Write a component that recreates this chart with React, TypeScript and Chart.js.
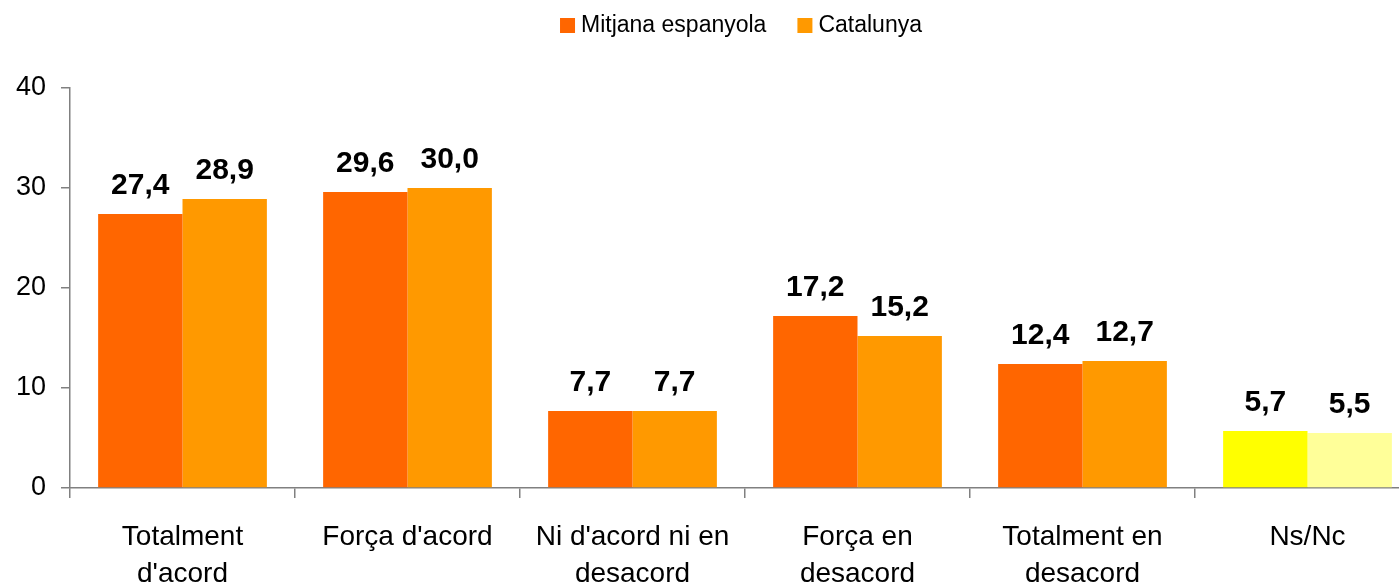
import React, { useEffect, useRef } from "react";
import { Chart, registerables } from "chart.js";

Chart.register(...registerables);

const categories: (string | string[])[] = [
  ["Totalment", "d'acord"],
  "Força d'acord",
  ["Ni d'acord ni en", "desacord"],
  ["Força en", "desacord"],
  ["Totalment en", "desacord"],
  "Ns/Nc",
];
const seriesNames = ["Mitjana espanyola", "Catalunya"];
const mitjanaValues = [27.4, 29.6, 7.7, 17.2, 12.4, 5.7];
const catalunyaValues = [28.9, 30.0, 7.7, 15.2, 12.7, 5.5];
const yTicks = [0, 10, 20, 30, 40];

const mainColors = ["#FF6600", "#FF9900"];
const nsncColors = ["#FFFF00", "#FFFF99"];

const FONT = "'Liberation Sans', Arial, Helvetica, sans-serif";

const labelPlugin = {
  id: "barLabels",
  afterDatasetsDraw(chart: any) {
    const ctx = chart.ctx;
    ctx.save();
    ctx.font = `bold 30px ${FONT}`;
    ctx.fillStyle = "#000";
    ctx.textAlign = "center";
    ctx.textBaseline = "alphabetic";
    chart.data.datasets.forEach((ds: any, i: number) => {
      const meta = chart.getDatasetMeta(i);
      meta.data.forEach((el: any, j: number) => {
        const v = ds.data[j] as number;
        ctx.fillText(v.toFixed(1).replace(".", ","), el.x, el.y - 20);
      });
    });
    ctx.restore();
  },
};

const legendPlugin = {
  id: "customLegend",
  afterDraw(chart: any) {
    const ctx = chart.ctx;
    ctx.save();
    ctx.font = `23px ${FONT}`;
    const box = 15;
    const gap = 6;
    const itemGap = 31;
    const widths = seriesNames.map((n) => ctx.measureText(n).width);
    const total = widths.reduce((a, w) => a + box + gap + w, 0) + itemGap * (seriesNames.length - 1);
    let x = 741 - total / 2;
    seriesNames.forEach((n, i) => {
      ctx.fillStyle = mainColors[i];
      ctx.fillRect(x, 18, box, box);
      ctx.fillStyle = "#000";
      ctx.textAlign = "left";
      ctx.textBaseline = "alphabetic";
      ctx.fillText(n, x + box + gap, 32);
      x += box + gap + widths[i] + itemGap;
    });
    ctx.restore();
  },
};

export default function App() {
  const ref = useRef<HTMLCanvasElement>(null);
  useEffect(() => {
    if (!ref.current) return;
    const chart = new Chart(ref.current, {
      type: "bar",
      data: {
        labels: categories,
        datasets: [
          {
            label: seriesNames[0],
            data: mitjanaValues,
            backgroundColor: (c: any) => (c.dataIndex === 5 ? nsncColors[0] : mainColors[0]),
            categoryPercentage: 0.75,
            barPercentage: 1,
          },
          {
            label: seriesNames[1],
            data: catalunyaValues,
            backgroundColor: (c: any) => (c.dataIndex === 5 ? nsncColors[1] : mainColors[1]),
            categoryPercentage: 0.75,
            barPercentage: 1,
          },
        ],
      },
      options: {
        animation: false,
        responsive: true,
        maintainAspectRatio: false,
        layout: { padding: { top: 88, right: 1, left: 0, bottom: 0 } },
        plugins: {
          tooltip: { enabled: false },
          legend: { display: false },
        },
        scales: {
          x: {
            grid: {
              drawOnChartArea: false,
              drawTicks: true,
              tickLength: 10,
              color: "#808080",
              lineWidth: 1.5,
            },
            border: { color: "#808080", width: 1.5 },
            ticks: {
              color: "#000",
              font: { family: FONT, size: 28, lineHeight: 1.32 },
              maxRotation: 0,
              autoSkip: false,
              padding: 21,
            },
            afterFit: (s: any) => {
              s.height = 98;
            },
          },
          y: {
            min: 0,
            max: 40,
            afterBuildTicks: (s: any) => {
              s.ticks = yTicks.map((v) => ({ value: v }));
            },
            grid: {
              drawOnChartArea: false,
              drawTicks: true,
              tickLength: 9,
              color: "#808080",
              lineWidth: 1.5,
            },
            border: { color: "#808080", width: 1.5 },
            ticks: {
              color: "#000",
              font: { family: FONT, size: 27 },
              padding: 15,
            },
            afterFit: (s: any) => {
              s.width = 70;
            },
          },
        },
      },
      plugins: [labelPlugin, legendPlugin],
    });
    return () => chart.destroy();
  }, []);
  return (
    <div style={{ position: "absolute", left: 0, top: 0, width: 1399, height: 586, overflow: "hidden" }}>
      <div style={{ position: "relative", width: 1421, height: 586 }}>
        <canvas ref={ref} />
      </div>
    </div>
  );
}
